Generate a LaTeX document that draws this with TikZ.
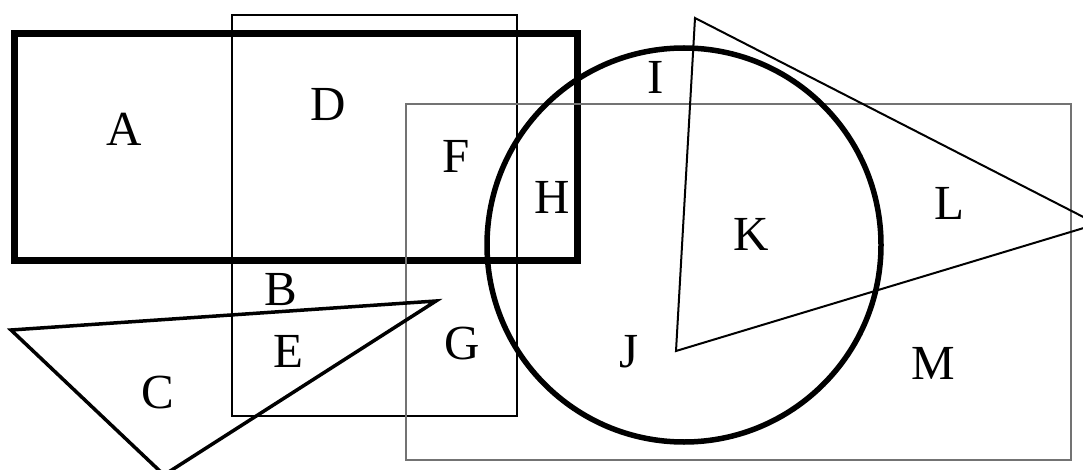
\documentclass[tikz,border=0pt]{standalone}
\usepackage{fontspec}
\setmainfont{Liberation Serif}
\begin{document}
\begin{tikzpicture}[x=1pt,y=-1pt,
  region/.style={font=\fontsize{49}{59}\selectfont, anchor=base, inner sep=0pt}]
\useasboundingbox (0,0) rectangle (1083,470);
\clip (0,0) rectangle (1083,470);

\draw[line width=7pt] (14.5,33.5) rectangle (577.5,260.5);
\draw[line width=2pt] (232,15) rectangle (517,416);
\draw[black!55, line width=1.2pt] (406,104) rectangle (1071,460);
\draw[line width=5.5pt] (684,245) circle [radius=197];

\draw[line width=2pt] (695,18) -- (1097,224) -- (676,351) -- cycle;
\draw[line width=3.5pt] (11,330) -- (436,301) -- (164,475) -- cycle;

\node[region] (A) at (124,146) {A};
\node[region] (B) at (281,305) {B};
\node[region] (C) at (158,408) {C};
\node[region] (D) at (328,121) {D};
\node[region] (E) at (288,367) {E};
\node[region] (F) at (456,173) {F};
\node[region] (G) at (462,359) {G};
\node[region] (H) at (552,214) {H};
\node[region] (I) at (656,94) {I};
\node[region] (J) at (629,367) {J};
\node[region] (K) at (751,251) {K};
\node[region] (L) at (949,220) {L};
\node[region] (M) at (933,379) {M};
\end{tikzpicture}
\end{document}
